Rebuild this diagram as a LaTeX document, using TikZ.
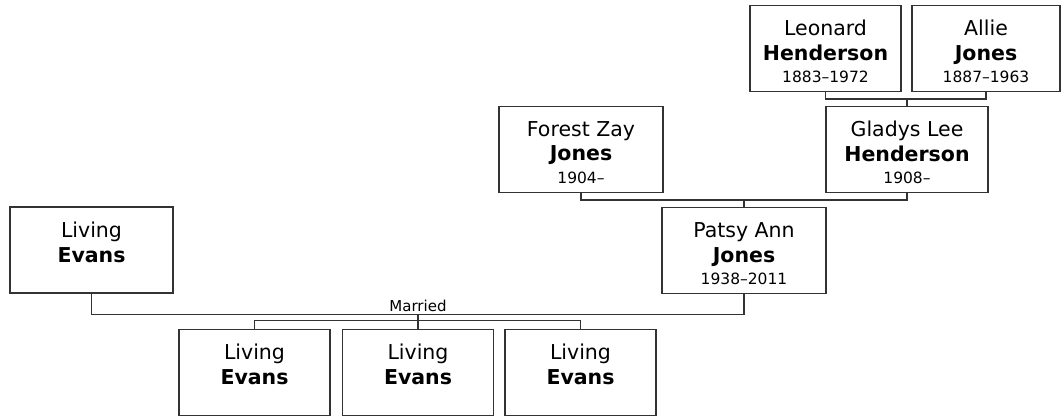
\documentclass[tikz,border=0pt]{standalone}
\usepackage{fontspec}
\setmainfont{DejaVu Sans}
\usetikzlibrary{positioning, calc}

\newcommand{\yrs}[1]{{\fontsize{15.5}{19}\selectfont #1}}

\begin{document}
\begin{tikzpicture}[x=1pt, y=-1pt, font=\fontsize{20.5}{25}\selectfont,
    person/.style={draw=black!80, line width=1.3pt, minimum height=86pt},
    who/.style={anchor=north, align=center, inner sep=0pt, yshift=-15pt},
    link/.style={draw=black!80, line width=1.2pt}]
  \useasboundingbox (0,0) rectangle (1061,416);
  % People
  \foreach \id/\x/\y/\w/\first/\last/\yr in {
      leonard/825.5/48.5/151/Leonard/Henderson/1883–1972,
      allie/986/48.5/148/Allie/Jones/1887–1963,
      forest/581/149.5/164/Forest Zay/Jones/1904–,
      gladys/907/149.5/162/Gladys Lee/Henderson/1908–,
      patsy/744/250.5/164/Patsy Ann/Jones/1938–2011,
      evans/91.5/250/163/Living/Evans/,
      kid1/254.5/372.5/151/Living/Evans/,
      kid2/418/372.5/151/Living/Evans/,
      kid3/580.5/372.5/151/Living/Evans/}{
    \node[person, minimum width=\w pt] (\id) at (\x,\y) {};
    \node[who] (\id t) at (\id.north) {\first\\\textbf{\last}\\[-3pt]\yrs{\yr}};
  }
  % Parents of Gladys
  \coordinate (j1) at ($(leonard.south)!.5!(gladys.north)$);
  \draw[link] (leonard.south) |- (j1) -| (allie.south);
  \draw[link] (gladys.north) -- (gladys.north |- j1);
  % Parents of Patsy
  \coordinate (j2) at ($(forest.south)!.5!(patsy.north)$);
  \draw[link] (forest.south) |- (j2) -| (gladys.south);
  \draw[link] (patsy.north) -- (patsy.north |- j2);
  % Marriage and children
  \coordinate (wed) at ($(evans.south)+(0,21)$);
  \draw[link] (evans.south) -- (wed) -| (patsy.south);
  \node[above, font=\fontsize{15}{18}\selectfont, inner sep=3pt] (married) at (kid2.north |- wed) {Married};
  \coordinate (kids) at ($(kid2.north)+(0,-8)$);
  \draw[link] (kid2.north |- wed) -- (kid2.north);
  \draw[link] (kid1.north) |- (kids) -| (kid3.north);
\end{tikzpicture}
\end{document}
